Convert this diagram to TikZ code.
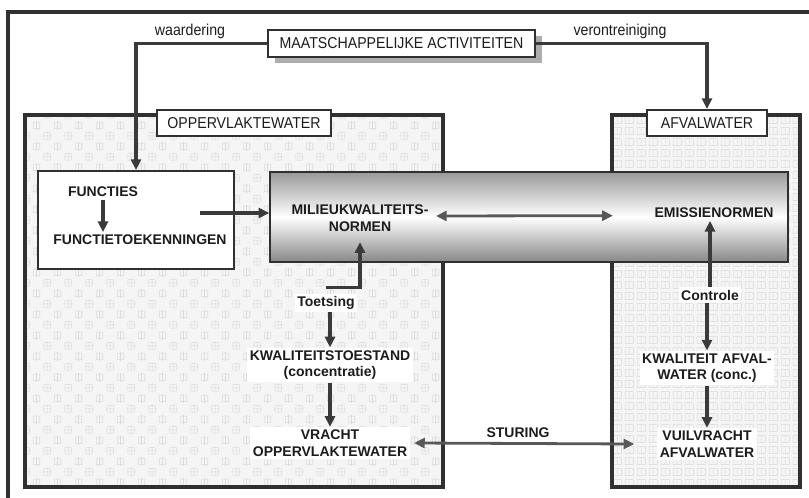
\documentclass[tikz,border=0pt]{standalone}
\usepackage{fontspec}
\setmainfont{Liberation Sans}
\newfontfamily\narrowfont[FakeStretch=0.9]{Liberation Sans}
\usetikzlibrary{arrows.meta,patterns.meta,fit,shadows}

\definecolor{ink}{HTML}{3A3A3A}
\definecolor{frameink}{HTML}{303030}
\definecolor{txt}{HTML}{1C1C1C}

% light texture for the surface-water region
\tikzdeclarepattern{
  name=softmarks, type=uncolored,
  bounding box={(0pt,0pt) and (16pt,16pt)},
  tile size={(16pt,16pt)},
  code={
    \draw[line width=0.45pt] (1.5pt,1.5pt) rectangle (6.5pt,6.5pt);
    \draw[line width=0.45pt] (4pt,0.5pt) -- (4pt,7.5pt) (0.5pt,4pt) -- (7.5pt,4pt);
    \draw[line width=0.45pt] (9.5pt,9.5pt) rectangle (14.5pt,14.5pt);
    \draw[line width=0.45pt] (12pt,8.5pt) -- (12pt,15.5pt);
  }}
% light texture for the waste-water region
\tikzdeclarepattern{
  name=tinyblocks, type=uncolored,
  bounding box={(0pt,0pt) and (9pt,8pt)},
  tile size={(9pt,8pt)},
  code={
    \draw[line width=0.4pt] (1pt,1pt) rectangle (7.5pt,6.5pt);
    \draw[line width=0.4pt] (4.2pt,1pt) -- (4.2pt,6.5pt);
  }}

\begin{document}
\begin{tikzpicture}[x=0.75pt,y=-0.75pt,
  every node/.style={text=txt},
  conn/.style={draw=ink, line width=2.6pt, -{Triangle[length=8pt,width=7.5pt]}},
  twoway/.style={draw=ink!85, line width=2.1pt,
    {Triangle[length=8pt,width=7.5pt]}-{Triangle[length=8pt,width=7.5pt]}},
  region/.style={draw=frameink, line width=2.3pt, inner sep=0pt},
  tag/.style={draw=frameink, line width=1.5pt, fill=white, inner sep=0pt,
    font=\narrowfont\fontsize{11.8}{13}\selectfont},
  caption/.style={inner sep=1pt, font=\narrowfont\fontsize{11.8}{13}\selectfont},
  term/.style={inner sep=2pt, align=center,
    font=\bfseries\fontsize{10.5}{12.5}\selectfont},
  termbg/.style={term, fill=white},
]
\useasboundingbox (0,0) rectangle (809,498);

% outer frame (only its top and left sides fall inside the page)
\draw[line width=2.4pt, frameink] (8,498) -- (8,12) -- (809,12);

% the two water regions
\node[region, fit={(25,115) (443,487)}, preaction={fill=black!4},
      pattern=softmarks, pattern color=black!14] (surface) {};
\node[region, fit={(612,115) (800,487)}, preaction={fill=black!4},
      pattern=tinyblocks, pattern color=black!15] (waste) {};

% shaded band of norms
\node[fit={(270,172) (788,262)}, inner sep=0pt, draw=frameink, line width=1.1pt,
      top color=black!40, bottom color=black!47, middle color=white] (band) {};

% functions box
\node[fit={(38,171) (234,269)}, inner sep=0pt, draw=frameink, line width=1.5pt,
      fill=white] (fbox) {};

% society box with its shadow and the two captions
\node[tag, minimum width=200pt, minimum height=20.25pt,
      general shadow={fill=black!32, shadow xshift=5.2pt, shadow yshift=-4.5pt}]
      (maats) at (401.5,43.5) {MAATSCHAPPELIJKE ACTIVITEITEN};
\node[caption] (waard) at (190,31) {waardering};
\node[caption] (veront) at (620,31) {verontreiniging};

\node[tag, minimum width=130.5pt, minimum height=19.5pt]
      (surflabel) at (244,123) {OPPERVLAKTEWATER};
\node[tag, minimum width=90pt, minimum height=19.5pt]
      (wastelabel) at (707,123) {AFVALWATER};

\draw[conn] (maats.west) -| (fbox.north);
\draw[conn] (maats.east) -| (wastelabel.north);

% surface-water chain
\node[term] (func) at (103,192) {FUNCTIES};
\node[term] (toek) at (140,240) {FUNCTIETOEKENNINGEN};
\draw[conn] (func.south) -- (func.south |- toek.north);
\coordinate (fout) at (200,213);
\draw[conn] (fout) -- (fout -| band.west);

\node[term] (milieu) at (360,218) {MILIEUKWALITEITS-\\NORMEN};
\node[term] (emis) at (714,213) {EMISSIENORMEN};
\draw[twoway] ([xshift=3.5pt,yshift=1.5pt]milieu.east) -- ([xshift=-29pt,yshift=-2pt]emis.west);

\node[termbg] (toets) at (326,303) {Toetsing};
\node[termbg] (kwal) at (330,365) {KWALITEITSTOESTAND\\(concentratie)};
\node[termbg] (vracht) at (330,443) {VRACHT\\OPPERVLAKTEWATER};
\draw[conn] ([yshift=4.5pt]toets.north) -| ([yshift=-6pt]milieu.south);
\draw[conn] (kwal.north |- toets.south) -- (kwal.north);
\draw[conn] (kwal.south) -- (vracht.north);

% waste-water chain
\node[termbg] (contr) at (710,295) {Controle};
\node[termbg] (kafv) at (707,368) {KWALITEIT AFVAL-\\WATER (conc.)};
\node[termbg] (vuil) at (707,444) {VUILVRACHT\\AFVALWATER};
\draw[conn] (contr.north) -- (contr.north |- emis.south);
\draw[conn] (kafv.north |- contr.south) -- (kafv.north);
\draw[conn] (kafv.south) -- (vuil.north);

% steering between the two loads
\node[term] (stur) at (518,433) {STURING};
\draw[twoway] ([xshift=3pt]vracht.east) -- ([xshift=-17pt]vuil.west);
\end{tikzpicture}
\end{document}
